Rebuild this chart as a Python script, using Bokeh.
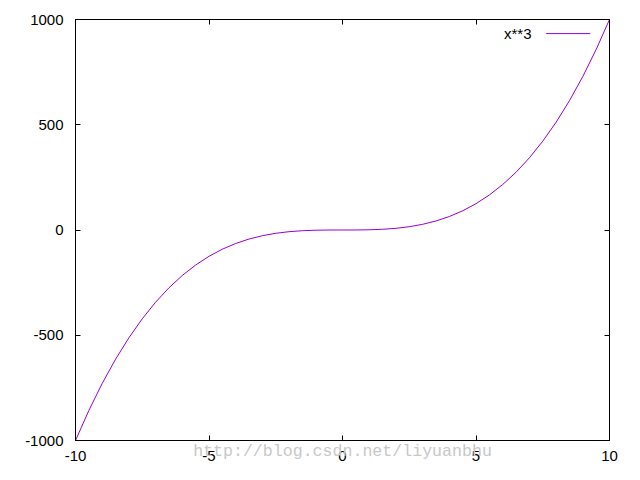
from bokeh.plotting import figure
from bokeh.models import Range1d, LinearAxis, FixedTicker, Label, Arrow, CustomLabelingPolicy
from bokeh.embed import file_html
from bokeh.resources import INLINE

# data (curve x**3)
xs = [-10, -9.5, -9, -8.5, -8, -7.5, -7, -6.5, -6, -5.5, -5, -4.5, -4, -3.5, -3, -2.5,
      -2, -1.5, -1, -0.5, 0, 0.5, 1, 1.5, 2, 2.5, 3, 3.5, 4, 4.5, 5, 5.5, 6, 6.5, 7,
      7.5, 8, 8.5, 9, 9.5, 10]
ys = [-1000, -857.4, -729, -614.1, -512, -421.9, -343, -274.6, -216, -166.4, -125,
      -91.1, -64, -42.9, -27, -15.6, -8, -3.4, -1, -0.1, 0, 0.1, 1, 3.4, 8, 15.6, 27,
      42.9, 64, 91.1, 125, 166.4, 216, 274.6, 343, 421.9, 512, 614.1, 729, 857.4, 1000]
x_ticks = [-10, -5, 0, 5, 10]
y_ticks = [-1000, -500, 0, 500, 1000]
series_label = "x**3"
watermark = "http://blog.csdn.net/liyuanbhu"

FONT = "Liberation Sans"
COLOR = "#9400D3"

p = figure(width=624, height=464, output_backend="svg", toolbar_location=None,
           x_range=Range1d(-10, 10), y_range=Range1d(-1000, 1000),
           x_axis_location=None, y_axis_location=None,
           min_border_left=75, min_border_right=15, min_border_top=19, min_border_bottom=24)
p.background_fill_color = "white"
p.border_fill_color = "white"
p.grid.visible = False
p.outline_line_color = "black"
p.outline_line_width = 1

def make_axis(ticks, show_labels):
    ax = LinearAxis(ticker=FixedTicker(ticks=ticks))
    ax.axis_line_color = "black"
    ax.major_tick_in = 5
    ax.major_tick_out = 0
    ax.minor_tick_in = 0
    ax.minor_tick_out = 0
    ax.major_tick_line_color = "black"
    ax.major_label_text_font = FONT
    ax.major_label_text_color = "black"
    if show_labels:
        ax.major_label_text_font_size = "15px"
        ax.major_label_overrides = {t: str(t) for t in ticks}
    else:
        ax.major_label_text_font_size = "1px"
        ax.major_label_standoff = 0
        ax.major_label_policy = CustomLabelingPolicy(
            code="for (const i of indices) { indices.unset(i) }; return indices")
    return ax

xb = make_axis(x_ticks, True)
xb.major_label_standoff = 10
# watermark drawn as the bottom axis' label, overlapping the tick-label row
xb.axis_label = watermark
xb.axis_label_text_font = "Liberation Mono"
xb.axis_label_text_font_size = "16.6px"
xb.axis_label_text_font_style = "normal"
xb.axis_label_text_color = "#c8c8c8"
xb.axis_label_standoff = -22
xb.axis_label_align = "center"

yl = make_axis(y_ticks, True); yl.major_label_standoff = 12
xt = make_axis(x_ticks, False)
yr = make_axis(y_ticks, False)
p.add_layout(xb, "below")
p.add_layout(yl, "left")
p.add_layout(xt, "above")
p.add_layout(yr, "right")

p.line(xs, ys, line_color=COLOR, line_width=1)

# legend (gnuplot style: text then sample)
p.add_layout(Label(x=7.08, y=933, text=series_label, text_align="right",
                   text_baseline="middle", text_font=FONT, text_font_size="15px",
                   text_color="black"))
p.add_layout(Arrow(x_start=7.63, y_start=933, x_end=9.28, y_end=933,
                   start=None, end=None, line_color=COLOR, line_width=1))

open("out.html", "w").write(file_html(p, INLINE))
